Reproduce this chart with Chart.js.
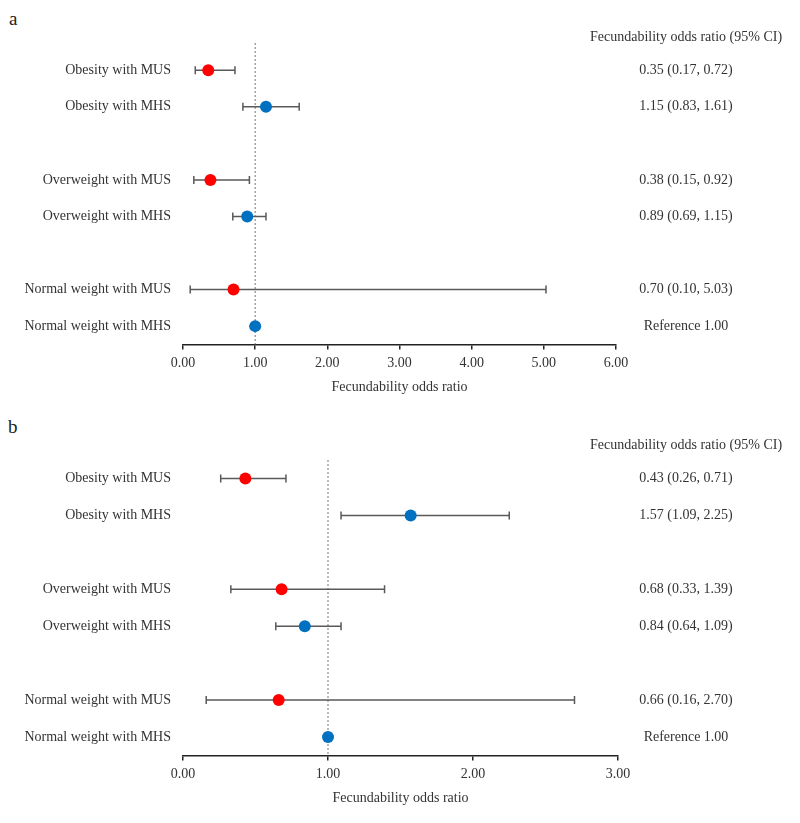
<!DOCTYPE html>
<html>
<head>
<meta charset="utf-8">
<script src="https://cdn.jsdelivr.net/npm/chart.js@4/dist/chart.umd.min.js"></script>
<style>
  html, body { margin: 0; padding: 0; background: #fff; }
  #page { position: relative; width: 800px; height: 823px; overflow: hidden; }
  .panel-letter { position: absolute; font-family: 'Liberation Serif', serif; font-size: 19px; color: #222; }
  .panel { position: absolute; left: 0; width: 800px; }
</style>
</head>
<body>
<div id="page">
  <div class="panel-letter" style="left: 9px; top: 8px;">a</div>
  <div class="panel" style="top: 0; height: 410px;"><canvas id="chart-a"></canvas></div>
  <div class="panel-letter" style="left: 8px; top: 416px;">b</div>
  <div class="panel" style="top: 410px; height: 413px;"><canvas id="chart-b"></canvas></div>
</div>
<script>
const rowLabels = [
  'Obesity with MUS',
  'Obesity with MHS',
  'Overweight with MUS',
  'Overweight with MHS',
  'Normal weight with MUS',
  'Normal weight with MHS',
];
const rowGroups = ['MUS', 'MHS', 'MUS', 'MHS', 'MUS', 'MHS'];

const oddsA = [0.35, 1.15, 0.38, 0.89, 0.70, 1.00];
const lowerA = [0.17, 0.83, 0.15, 0.69, 0.10, null];
const upperA = [0.72, 1.61, 0.92, 1.15, 5.03, null];
const ciTextA = ['0.35 (0.17, 0.72)', '1.15 (0.83, 1.61)', '0.38 (0.15, 0.92)', '0.89 (0.69, 1.15)', '0.70 (0.10, 5.03)', 'Reference 1.00'];

const oddsB = [0.43, 1.57, 0.68, 0.84, 0.66, 1.00];
const lowerB = [0.26, 1.09, 0.33, 0.64, 0.16, null];
const upperB = [0.71, 2.25, 1.39, 1.09, 2.70, null];
const ciTextB = ['0.43 (0.26, 0.71)', '1.57 (1.09, 2.25)', '0.68 (0.33, 1.39)', '0.84 (0.64, 1.09)', '0.66 (0.16, 2.70)', 'Reference 1.00'];

const xMaxA = 6;
const xMaxB = 3;
const columnTitle = 'Fecundability odds ratio (95% CI)';
const axisTitle = 'Fecundability odds ratio';

const groupColors = { MUS: '#ff0000', MHS: '#0070c0' };
const textColor = '#333333';
const fontFamily = "'Liberation Serif', 'Times New Roman', serif";

// spacer rows keep the gap between the weight groups
const yCategories = [rowLabels[0], rowLabels[1], ' ', rowLabels[2], rowLabels[3], '  ', rowLabels[4], rowLabels[5]];

const forestPlugin = {
  id: 'forest',
  beforeDatasetsDraw(chart, _args, opts) {
    const { ctx, chartArea } = chart;
    const xScale = chart.scales.x;
    const yScale = chart.scales.y;

    ctx.save();
    const refX = xScale.getPixelForValue(1);
    ctx.strokeStyle = '#777777';
    ctx.lineWidth = 1;
    ctx.setLineDash([2, 2]);
    ctx.beginPath();
    ctx.moveTo(refX, chartArea.top + opts.refTopOffset);
    ctx.lineTo(refX, chartArea.bottom);
    ctx.stroke();
    ctx.setLineDash([]);

    ctx.strokeStyle = '#595959';
    ctx.lineWidth = 1.5;
    opts.lower.forEach((low, index) => {
      const high = opts.upper[index];
      if (low === null || high === null) return;
      const y = yScale.getPixelForValue(yCategories.indexOf(rowLabels[index]));
      const x1 = xScale.getPixelForValue(low);
      const x2 = xScale.getPixelForValue(high);
      ctx.beginPath();
      ctx.moveTo(x1, y);
      ctx.lineTo(x2, y);
      ctx.moveTo(x1, y - 4);
      ctx.lineTo(x1, y + 4);
      ctx.moveTo(x2, y - 4);
      ctx.lineTo(x2, y + 4);
      ctx.stroke();
    });
    ctx.restore();
  },
  afterDraw(chart, _args, opts) {
    const { ctx } = chart;
    const yScale = chart.scales.y;
    const centerX = opts.textCenter;

    ctx.save();
    ctx.fillStyle = textColor;
    ctx.font = `14px ${fontFamily}`;
    ctx.textAlign = 'center';
    ctx.textBaseline = 'middle';
    const firstY = yScale.getPixelForValue(0);
    ctx.fillText(columnTitle, centerX, firstY - 33);
    opts.ciText.forEach((text, index) => {
      const y = yScale.getPixelForValue(yCategories.indexOf(rowLabels[index]));
      ctx.fillText(text, centerX, y);
    });
    ctx.restore();
  },
};

function buildForest(canvasId, odds, lower, upper, ciText, xMax, padding) {
  const points = odds.map((value, index) => ({ x: value, y: rowLabels[index] }));
  const colors = rowGroups.map((group) => groupColors[group]);

  return new Chart(document.getElementById(canvasId), {
    type: 'scatter',
    data: {
      datasets: [
        {
          data: points,
          pointRadius: 6,
          pointHoverRadius: 6,
          pointBackgroundColor: colors,
          pointBorderColor: colors,
          pointBorderWidth: 0,
        },
      ],
    },
    plugins: [forestPlugin],
    options: {
      responsive: true,
      maintainAspectRatio: false,
      animation: false,
      layout: { padding },
      plugins: {
        legend: { display: false },
        tooltip: { enabled: false },
        forest: {
          lower,
          upper,
          ciText,
          textCenter: 686,
          refTopOffset: padding.refTopOffset || 0,
        },
      },
      scales: {
        x: {
          type: 'linear',
          min: 0,
          max: xMax,
          grid: {
            display: true,
            drawOnChartArea: false,
            drawTicks: true,
            tickLength: 5,
            color: '#222',
            lineWidth: 1.5,
          },
          border: { display: true, color: '#222', width: 1.5 },
          ticks: {
            stepSize: 1,
            padding: 6,
            color: textColor,
            font: { family: fontFamily, size: 14 },
            callback: (value) => Number(value).toFixed(2),
          },
          title: {
            display: true,
            text: axisTitle,
            color: textColor,
            font: { family: fontFamily, size: 14 },
            padding: { top: 1, bottom: 0 },
          },
        },
        y: {
          type: 'category',
          labels: yCategories,
          offset: true,
          grid: { display: false, drawTicks: false },
          border: { display: false },
          ticks: {
            padding: 12,
            color: textColor,
            font: { family: fontFamily, size: 14 },
          },
          afterFit(scale) {
            scale.width = 183 - padding.left;
          },
        },
      },
    },
  });
}

buildForest('chart-a', oddsA, lowerA, upperA, ciTextA, xMaxA, { top: 52, bottom: 14, left: 0, right: 184, refTopOffset: -9 });
buildForest('chart-b', oddsB, lowerB, upperB, ciTextB, xMaxB, { top: 50, bottom: 16, left: 0, right: 182, refTopOffset: 0 });
</script>
</body>
</html>
